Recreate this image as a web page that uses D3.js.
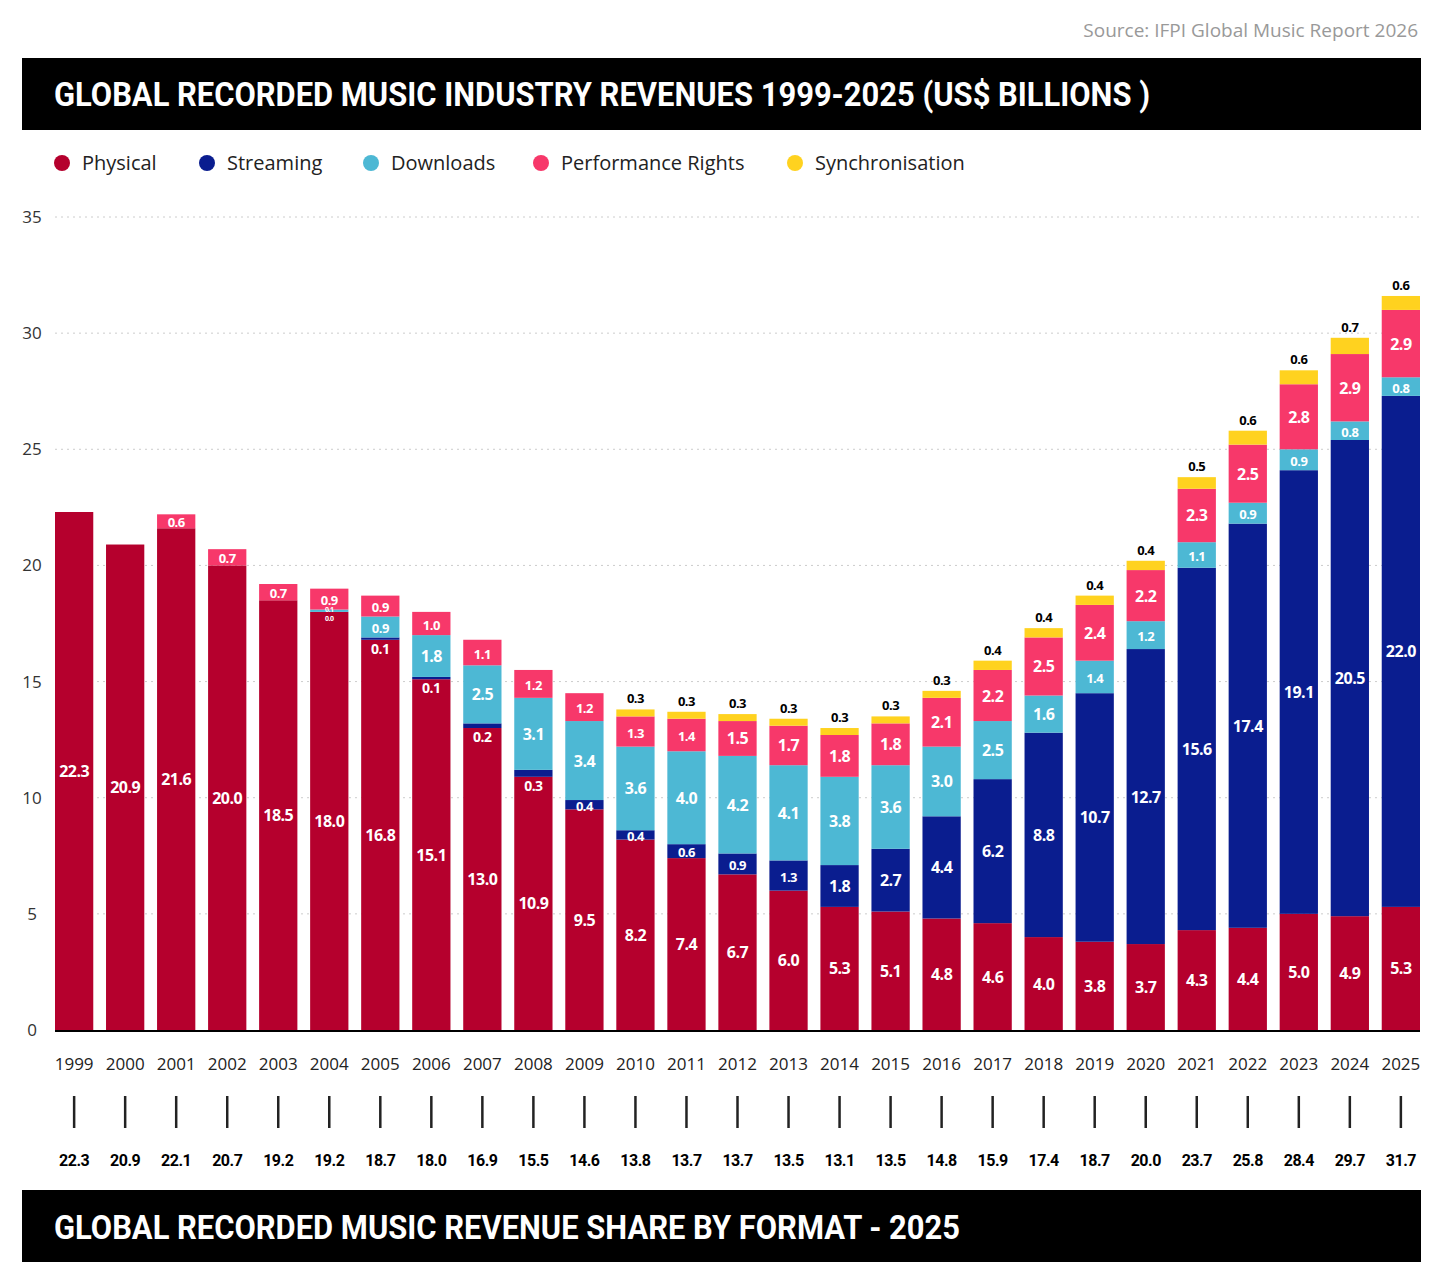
<!DOCTYPE html>
<meta charset="utf-8">
<head>
<script src="https://cdn.jsdelivr.net/npm/d3@7/dist/d3.min.js"></script>
<style>
  body { margin: 0; background: #fff; }
  text { font-family: "Open Sans", sans-serif; }
  .cond { font-family: "Roboto", "DejaVu Sans Condensed", sans-serif; font-weight: bold; }
</style>
</head>
<body>
<svg id="chart" width="1440" height="1279"></svg>
<script>
var years = [1999,2000,2001,2002,2003,2004,2005,2006,2007,2008,2009,2010,2011,2012,2013,2014,2015,2016,2017,2018,2019,2020,2021,2022,2023,2024,2025];
var physical = [22.3,20.9,21.6,20.0,18.5,18.0,16.8,15.1,13.0,10.9,9.5,8.2,7.4,6.7,6.0,5.3,5.1,4.8,4.6,4.0,3.8,3.7,4.3,4.4,5.0,4.9,5.3];
var streaming = [0,0,0,0,0,0.0,0.1,0.1,0.2,0.3,0.4,0.4,0.6,0.9,1.3,1.8,2.7,4.4,6.2,8.8,10.7,12.7,15.6,17.4,19.1,20.5,22.0];
var downloads = [0,0,0,0,0,0.1,0.9,1.8,2.5,3.1,3.4,3.6,4.0,4.2,4.1,3.8,3.6,3.0,2.5,1.6,1.4,1.2,1.1,0.9,0.9,0.8,0.8];
var performance = [0,0,0.6,0.7,0.7,0.9,0.9,1.0,1.1,1.2,1.2,1.3,1.4,1.5,1.7,1.8,1.8,2.1,2.2,2.5,2.4,2.2,2.3,2.5,2.8,2.9,2.9];
var sync = [0,0,0,0,0,0,0,0,0,0,0,0.3,0.3,0.3,0.3,0.3,0.3,0.3,0.4,0.4,0.4,0.4,0.5,0.6,0.6,0.7,0.6];
var totals = ["22.3","20.9","22.1","20.7","19.2","19.2","18.7","18.0","16.9","15.5","14.6","13.8","13.7","13.7","13.5","13.1","13.5","14.8","15.9","17.4","18.7","20.0","23.7","25.8","28.4","29.7","31.7"];
var seriesNames = ["Physical","Streaming","Downloads","Performance Rights","Synchronisation"];
var colors = ["#b5002d","#0a1d8f","#4db8d4","#f7386a","#ffd21f"];
var yTicks = [0,5,10,15,20,25,30,35];

var svg = d3.select("#chart");
var x = d3.scaleBand().domain(years).range([55, 1420]).paddingInner(0.25).paddingOuter(0);
var y = d3.scaleLinear().domain([0, 35]).range([1030, 217]);

svg.append("text").attr("x", 1418).attr("y", 37).attr("text-anchor", "end")
  .attr("fill", "#999").attr("font-size", 19).text("Source: IFPI Global Music Report 2026");

svg.append("rect").attr("x", 22).attr("y", 58).attr("width", 1399).attr("height", 72).attr("fill", "#000");
svg.append("text").attr("class", "cond").attr("x", 54).attr("y", 106).attr("fill", "#fff")
  .attr("font-size", 34).attr("textLength", 1096).attr("lengthAdjust", "spacingAndGlyphs")
  .text("GLOBAL RECORDED MUSIC INDUSTRY REVENUES 1999-2025 (US$ BILLIONS )");

// legend
var legX = [62, 207, 371, 541, 795];
seriesNames.forEach(function(n, i) {
  svg.append("circle").attr("cx", legX[i]).attr("cy", 163).attr("r", 8).attr("fill", colors[i]);
  svg.append("text").attr("x", legX[i] + 20).attr("y", 170).attr("font-size", 20).attr("fill", "#222").text(n);
});

// grid
svg.selectAll(".grid").data(yTicks.slice(1)).enter().append("line")
  .attr("x1", 55).attr("x2", 1420).attr("y1", y).attr("y2", y)
  .attr("stroke", "#ccc").attr("stroke-dasharray", "2,4");
svg.selectAll(".ylab").data(yTicks).enter().append("text")
  .attr("x", 32).attr("y", function(d) { return y(d) + 6; }).attr("text-anchor", "middle")
  .attr("font-size", 17).attr("fill", "#333").text(function(d) { return d; });

// stacked bars
var rows = years.map(function(yr, i) {
  return { year: yr, s0: physical[i], s1: streaming[i], s2: downloads[i], s3: performance[i], s4: sync[i] };
});
var stack = d3.stack().keys(["s0","s1","s2","s3","s4"])(rows);
stack.forEach(function(layer, k) {
  svg.append("g").selectAll("rect").data(layer).enter().append("rect")
    .attr("x", function(d) { return x(d.data.year); })
    .attr("width", x.bandwidth())
    .attr("y", function(d) { return y(d[1]); })
    .attr("height", function(d) { return Math.max(0, y(d[0]) - y(d[1])); })
    .attr("fill", colors[k]);
});

var lab = svg.append("g").attr("class", "cond").attr("text-anchor", "middle").attr("letter-spacing", -0.5);
stack.forEach(function(layer, k) {
  layer.forEach(function(d, i) {
    var v = d[1] - d[0];
    var cx = x(d.data.year) + x.bandwidth() / 2;
    var show = v > 0 || (k === 1 && d.data.year === 2004);
    if (!show) return;
    var ty, fs, fill = "#fff";
    if (k === 4) { ty = y(d[1]) - 6; fill = "#000"; fs = 13; }
    else if (k === 1 && d.data.year === 2004) { ty = y(d[0]) + 9; fs = 7; }
    else if (k === 1 && v < 0.4) { ty = y(d[0]) + 14; fs = 14; }
    else if (k === 2 && v < 0.2) { ty = (y(d[0]) + y(d[1])) / 2 + 1; fs = 7; }
    else { ty = (y(d[0]) + y(d[1])) / 2 + 6; fs = v < 1.5 ? 13 : 16; }
    lab.append("text").attr("x", cx).attr("y", ty).attr("font-size", fs).attr("fill", fill)
      .text(v.toFixed(1));
  });
});

// baseline + x axis
svg.append("line").attr("x1", 55).attr("x2", 1420).attr("y1", 1031).attr("y2", 1031).attr("stroke", "#000").attr("stroke-width", 2);
svg.append("g").attr("transform", "translate(0,1050)")
  .call(d3.axisBottom(x).tickSize(0).tickPadding(8))
  .call(function(g) { g.select(".domain").remove(); g.selectAll("text").attr("font-size", 17).attr("fill", "#222").attr("font-family", "Open Sans"); });
svg.selectAll(".tk").data(years).enter().append("line")
  .attr("x1", function(d) { return x(d) + x.bandwidth() / 2; })
  .attr("x2", function(d) { return x(d) + x.bandwidth() / 2; })
  .attr("y1", 1096).attr("y2", 1128).attr("stroke", "#222").attr("stroke-width", 2.5);
svg.selectAll(".tot").data(years).enter().append("text").attr("class", "cond")
  .attr("x", function(d) { return x(d) + x.bandwidth() / 2; }).attr("y", 1166)
  .attr("text-anchor", "middle").attr("font-size", 16).attr("letter-spacing", -0.5).attr("fill", "#000")
  .text(function(d, i) { return totals[i]; });

svg.append("rect").attr("x", 22).attr("y", 1190).attr("width", 1399).attr("height", 72).attr("fill", "#000");
svg.append("text").attr("class", "cond").attr("x", 54).attr("y", 1239).attr("fill", "#fff")
  .attr("font-size", 34).attr("textLength", 906).attr("lengthAdjust", "spacingAndGlyphs")
  .text("GLOBAL RECORDED MUSIC REVENUE SHARE BY FORMAT - 2025");
</script>
</body>
